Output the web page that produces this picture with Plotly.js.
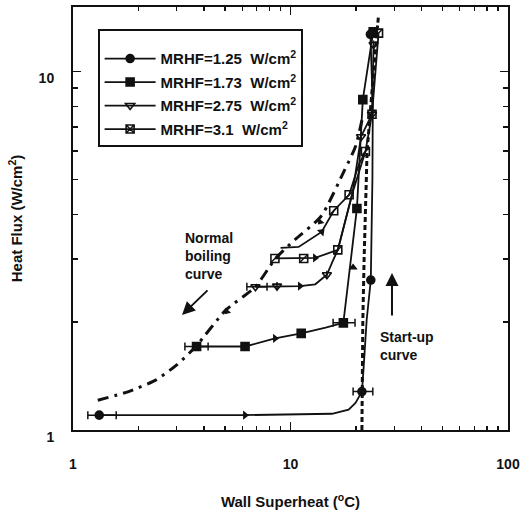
<!DOCTYPE html>
<html>
<head>
<meta charset="utf-8">
<script src="https://cdn.plot.ly/plotly-3.0.1.min.js"></script>
<style>
  html, body { margin: 0; padding: 0; background: #fff; }
  #chart { width: 521px; height: 523px; }
</style>
</head>
<body>
<div id="chart"></div>
<script>
// ---- Series: MRHF = 1.25 W/cm2 (filled circles) ----
const s1PathX = [1.32, 6.0, 15.5, 18.5, 19.9, 21.3, 21.7, 22.4, 23.4, 23.8, 23.9, 23.3];
const s1PathY = [1.10, 1.10, 1.11, 1.14, 1.19, 1.28, 1.50, 2.03, 2.62, 5.0, 8.0, 12.7];
const s1PtsX = [1.32, 21.3, 23.4, 23.3];
const s1PtsY = [1.10, 1.28, 2.62, 12.7];
const s1ErrMinus = [0.15, 1.9, null, null];
const s1ErrPlus = [0.26, 2.6, null, null];

// ---- Series: MRHF = 1.73 W/cm2 (filled squares) ----
const s2PathX = [3.70, 6.18, 8.49, 11.2, 14.5, 17.5, 20.2, 21.5, 24.0];
const s2PathY = [1.71, 1.71, 1.80, 1.86, 1.93, 1.99, 4.15, 8.35, 12.9];
const s2PtsX = [3.70, 6.18, 11.2, 17.5, 20.2, 21.5, 24.0];
const s2PtsY = [1.71, 1.71, 1.86, 1.99, 4.15, 8.35, 12.9];
const s2ErrMinus = [0.43, null, null, 1.8, null, null, null];
const s2ErrPlus = [0.48, null, null, 2.3, null, null, null];

// ---- Series: MRHF = 2.75 W/cm2 (open down-triangles) ----
const s3PathX = [6.9, 8.67, 11.06, 13.0, 14.7, 15.6, 16.5, 19.3, 21.1, 23.7, 24.1];
const s3PathY = [2.51, 2.52, 2.52, 2.55, 2.71, 2.95, 3.18, 4.6, 6.58, 7.6, 11.9];
const s3PtsX = [6.9, 8.67, 14.7, 21.1, 23.7, 24.1];
const s3PtsY = [2.51, 2.52, 2.71, 6.58, 7.6, 11.9];
const s3ErrMinus = [0.6, null, null, null, null, null];
const s3ErrPlus = [0.9, null, null, null, null, null];

// ---- Series: MRHF = 3.1 W/cm2 (open slashed squares) ----
// rising branch, then the returning branch (null separates them)
const s4PathX = [8.48, 11.5, 12.97, 16.5, 19.3, 22.1, 23.7, 25.4, null,
                 9.0, 10.9, 13.9, 15.8, 18.6, 20.6, 22.1];
const s4PathY = [3.01, 3.01, 3.02, 3.18, 4.6, 5.98, 7.6, 12.8, null,
                 3.22, 3.24, 3.57, 4.09, 4.53, 5.5, 5.98];
const s4PtsX = [8.48, 11.5, 16.5, 22.1, 23.7, 25.4, 15.8, 18.6];
const s4PtsY = [3.01, 3.01, 3.18, 5.98, 7.6, 12.8, 4.09, 4.53];

// ---- Reference curves ----
const normalX = [1.30, 1.8, 2.41, 3.0, 3.67, 5.04, 6.9, 8.5, 10.5, 13.8, 17.7, 19.9, 21.5];
const normalY = [1.21, 1.28, 1.38, 1.52, 1.71, 2.16, 2.51, 3.0, 3.4, 3.94, 5.3, 6.18, 7.5];
const startupX = [21.3, 21.5, 21.8, 22.5, 24.1, 25.4];
const startupY = [1.0, 2.0, 3.0, 6.0, 10.0, 14.4];

// ---- Direction arrowheads sitting on the curves ----
const rightArrowX = [6.18, 8.49, 11.06, 12.97];
const rightArrowY = [1.10, 1.80, 2.52, 3.02];
const upArrowX = [19.4];
const upArrowY = [2.84];
const riseArrowX = [13.9];
const riseArrowY = [3.57];
const backArrowX = [5.1, 13.7];
const backArrowY = [2.14, 3.81];

// ---- Labels ----
const seriesNames = [
  'MRHF=1.25  W/cm<sup>2</sup>',
  'MRHF=1.73  W/cm<sup>2</sup>',
  'MRHF=2.75  W/cm<sup>2</sup>',
  'MRHF=3.1  W/cm<sup>2</sup>'
];
const xTickVals = [1, 10, 100];
const xTickText = ['1', '10', '100'];
const xMinorVals = [2, 3, 4, 5, 6, 7, 8, 9, 20, 30, 40, 50, 60, 70, 80, 90];
const yTickVals = [1, 10];
const yTickText = ['1', '10'];
const yMinorVals = [2, 3, 4, 5, 6, 7, 8, 9];

const INK = '#111';
const symbols = ['circle', 'square', 'triangle-down-open', 'square-open'];

function pathTrace(x, y) {
  return { x, y, mode: 'lines', type: 'scatter', showlegend: false, hoverinfo: 'skip',
           connectgaps: false, line: { color: INK, width: 1.8 } };
}
function pointTrace(x, y, sym, errM, errP) {
  const t = { x, y, mode: 'markers', type: 'scatter', showlegend: false,
              marker: { symbol: sym, size: 8, color: INK, line: { color: INK, width: 1.6 } } };
  if (errM) {
    t.error_x = { type: 'data', symmetric: false, array: errP, arrayminus: errM,
                  color: INK, thickness: 1.5, width: 4 };
  }
  return t;
}
function arrowTrace(x, y, sym, angle, size) {
  return { x, y, mode: 'markers', type: 'scatter', showlegend: false, hoverinfo: 'skip',
           marker: { symbol: sym, size: size, angle: angle, color: INK, line: { width: 0 } } };
}
function legendTrace(name, sym, group) {
  return { x: [null], y: [null], name, legendgroup: group, mode: 'lines+markers', type: 'scatter',
           line: { color: INK, width: 1.8 },
           marker: { symbol: sym, size: 8, color: INK, line: { color: INK, width: 1.6 } } };
}

const traces = [
  // normal boiling curve (dash-dot)
  { x: normalX, y: normalY, mode: 'lines', type: 'scatter', showlegend: false, hoverinfo: 'skip',
    line: { color: INK, width: 3, dash: '11px,6px,3px,6px', shape: 'spline', smoothing: 0.6 } },
  // start-up curve (heavy dashes)
  { x: startupX, y: startupY, mode: 'lines', type: 'scatter', showlegend: false, hoverinfo: 'skip',
    line: { color: INK, width: 3, dash: '5px,3px' } },

  pathTrace(s1PathX, s1PathY),
  pathTrace(s2PathX, s2PathY),
  pathTrace(s3PathX, s3PathY),
  pathTrace(s4PathX, s4PathY),

  pointTrace(s1PtsX, s1PtsY, symbols[0], s1ErrMinus, s1ErrPlus),
  pointTrace(s2PtsX, s2PtsY, symbols[1], s2ErrMinus, s2ErrPlus),
  pointTrace(s3PtsX, s3PtsY, symbols[2], s3ErrMinus, s3ErrPlus),
  pointTrace(s4PtsX, s4PtsY, symbols[3]),
  // diagonal stroke inside the MRHF=3.1 squares
  { x: s4PtsX, y: s4PtsY, mode: 'markers', type: 'scatter', showlegend: false, hoverinfo: 'skip',
    marker: { symbol: 'line-ne', size: 8, line: { color: INK, width: 1.4 } } },

  arrowTrace(rightArrowX, rightArrowY, 'triangle-right', 0, 8),
  arrowTrace(upArrowX, upArrowY, 'triangle-right', -90, 8),
  arrowTrace(riseArrowX, riseArrowY, 'triangle-right', -45, 8),
  arrowTrace(backArrowX, backArrowY, 'triangle-right', 130, 7),

  legendTrace(seriesNames[0], symbols[0], 'a'),
  legendTrace(seriesNames[1], symbols[1], 'b'),
  legendTrace(seriesNames[2], symbols[2], 'c'),
  legendTrace(seriesNames[3], 'square-x-open', 'd')
];

const FONT = 'Liberation Sans, Arial, Helvetica, sans-serif';

const axisCommon = {
  type: 'log', tickmode: 'array', ticks: 'inside', ticklen: 8, tickwidth: 1.5, tickcolor: INK,
  showline: true, linewidth: 2, linecolor: INK, mirror: 'ticks',
  showgrid: false, zeroline: false,
  tickfont: { family: FONT, size: 14, color: INK, weight: 'bold' }
};

const layout = {
  width: 521, height: 523,
  margin: { l: 73, r: 13, t: 7, b: 93 },
  paper_bgcolor: '#fff', plot_bgcolor: '#fff',
  font: { family: FONT, size: 14, color: INK },
  showlegend: true,
  xaxis: Object.assign({}, axisCommon, {
    range: [0, 2], tickvals: xTickVals, ticktext: xTickText,
    minor: { tickmode: 'array', tickvals: xMinorVals, ticks: 'inside', ticklen: 4, tickwidth: 1.2, tickcolor: INK },
    ticklabelstandoff: 20,
    title: { text: 'Wall Superheat (<sup>o</sup>C)', standoff: 26,
             font: { family: FONT, size: 15, color: INK, weight: 'bold' } }
  }),
  yaxis: Object.assign({}, axisCommon, {
    range: [0, 1.18], tickvals: yTickVals, ticktext: yTickText,
    minor: { tickmode: 'array', tickvals: yMinorVals, ticks: 'inside', ticklen: 5, tickwidth: 1.2, tickcolor: INK },
    ticklabelstandoff: 14, ticklabelshift: 7,
    title: { text: 'Heat Flux (W/cm<sup>2</sup>)', standoff: 12,
             font: { family: FONT, size: 15, color: INK, weight: 'bold' } }
  }),
  legend: {
    x: 0.0575, y: 0.948, xanchor: 'left', yanchor: 'top',
    bgcolor: '#fff', bordercolor: INK, borderwidth: 1.6,
    itemwidth: 51, tracegroupgap: 1,
    title: { text: '\u00a0', font: { family: FONT, size: 9 } },
    font: { family: FONT, size: 15, color: INK, weight: 'bold' }
  },
  annotations: [
    { xref: 'paper', yref: 'paper', x: 0.253, y: 0.478, xanchor: 'left', yanchor: 'top', align: 'left',
      showarrow: false, text: 'Normal<br>boiling<br>curve',
      font: { family: FONT, size: 14, color: INK, weight: 'bold' } },
    { xref: 'paper', yref: 'paper', x: 0.2506, y: 0.272, text: '', showarrow: true,
      ax: 27, ay: -26, arrowhead: 2, arrowsize: 1.3, arrowwidth: 2, arrowcolor: INK },
    { xref: 'paper', yref: 'paper', x: 0.7, y: 0.243, xanchor: 'left', yanchor: 'top', align: 'left',
      showarrow: false, text: 'Start-up<br>curve',
      font: { family: FONT, size: 14, color: INK, weight: 'bold' } },
    { xref: 'paper', yref: 'paper', x: 0.7333, y: 0.371, text: '', showarrow: true,
      ax: 0, ay: 44, arrowhead: 2, arrowsize: 1.3, arrowwidth: 2, arrowcolor: INK }
  ]
};

Plotly.newPlot('chart', traces, layout, { displayModeBar: false, staticPlot: true });
</script>
</body>
</html>
